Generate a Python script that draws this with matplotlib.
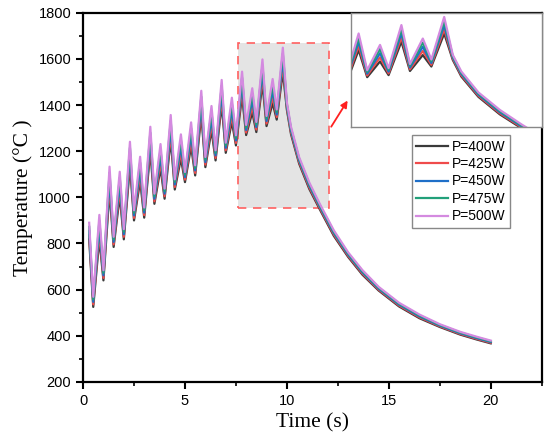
import matplotlib

matplotlib.use("Agg")

import matplotlib.pyplot as plt
from matplotlib.patches import Rectangle

# pulse phase: peaks at 0.3, 0.8, ... and troughs at 0.5, 1.0, ...
peak_times = [0.3, 0.8, 1.3, 1.8, 2.3, 2.8, 3.3, 3.8, 4.3, 4.8,
              5.3, 5.8, 6.3, 6.8, 7.3, 7.8, 8.3, 8.8, 9.3, 9.8]
trough_times = [0.5, 1.0, 1.5, 2.0, 2.5, 3.0, 3.5, 4.0, 4.5, 5.0,
                5.5, 6.0, 6.5, 7.0, 7.5, 8.0, 8.5, 9.0, 9.5]
decay_times = [10.0, 10.2, 10.6, 11.1, 11.6, 12.3, 13.0, 13.7, 14.5,
               15.5, 16.5, 17.5, 18.5, 19.3, 20.0]

labels = ["P=400W", "P=425W", "P=450W", "P=475W", "P=500W"]
colors = ["#3a3a3a", "#ef4b4b", "#1f6fc8", "#22a07a", "#d48ae0"]

peaks_400 = [818, 820, 1029, 1007, 1137, 1072, 1202, 1127, 1253, 1169,
             1221, 1358, 1292, 1405, 1328, 1441, 1369, 1494, 1409, 1545]
peaks_425 = [836, 846, 1055, 1033, 1163, 1098, 1228, 1153, 1279, 1195,
             1247, 1384, 1318, 1431, 1354, 1467, 1395, 1520, 1435, 1571]
peaks_450 = [854, 872, 1081, 1059, 1189, 1124, 1254, 1179, 1305, 1221,
             1273, 1410, 1344, 1457, 1380, 1493, 1421, 1546, 1461, 1597]
peaks_475 = [872, 898, 1107, 1085, 1215, 1150, 1280, 1205, 1331, 1247,
             1299, 1436, 1370, 1483, 1406, 1519, 1447, 1572, 1487, 1623]
peaks_500 = [890, 924, 1133, 1111, 1241, 1176, 1306, 1231, 1357, 1273,
             1325, 1462, 1396, 1509, 1432, 1545, 1473, 1598, 1513, 1649]

troughs_400 = [525, 640, 785, 818, 900, 912, 972, 994, 1034, 1066,
               1095, 1131, 1160, 1193, 1225, 1270, 1283, 1309, 1337]
troughs_425 = [536, 651, 796, 829, 911, 923, 983, 1005, 1045, 1077,
               1106, 1142, 1171, 1204, 1236, 1281, 1294, 1320, 1348]
troughs_450 = [547, 662, 807, 840, 922, 934, 994, 1016, 1056, 1088,
               1117, 1153, 1182, 1215, 1247, 1292, 1305, 1331, 1359]
troughs_475 = [558, 673, 818, 851, 933, 945, 1005, 1027, 1067, 1099,
               1128, 1164, 1193, 1226, 1258, 1303, 1316, 1342, 1370]
troughs_500 = [569, 684, 829, 862, 944, 956, 1016, 1038, 1078, 1110,
               1139, 1175, 1204, 1237, 1269, 1314, 1327, 1353, 1381]

decay_400 = [1379, 1274, 1146, 1036, 950, 833, 742, 665, 596, 527, 476, 438, 405, 384, 367]
decay_425 = [1387, 1282, 1153, 1043, 956, 839, 747, 670, 600, 531, 480, 441, 408, 387, 370]
decay_450 = [1395, 1290, 1160, 1050, 962, 845, 752, 675, 604, 535, 484, 444, 411, 390, 373]
decay_475 = [1403, 1298, 1167, 1057, 968, 851, 757, 680, 608, 539, 488, 447, 414, 393, 376]
decay_500 = [1411, 1306, 1174, 1064, 974, 857, 762, 685, 612, 543, 492, 450, 417, 396, 379]

peaks = [peaks_400, peaks_425, peaks_450, peaks_475, peaks_500]
troughs = [troughs_400, troughs_425, troughs_450, troughs_475, troughs_500]
decays = [decay_400, decay_425, decay_450, decay_475, decay_500]


def build_series(pk, tr, dc):
    # interleave peaks and troughs, then append the cooling part
    t, T = [], []
    for i in range(len(peak_times)):
        t.append(peak_times[i])
        T.append(pk[i])
        if i < len(trough_times):
            t.append(trough_times[i])
            T.append(tr[i])
    return t + decay_times, T + dc


series = [build_series(p, tr, d) for p, tr, d in zip(peaks, troughs, decays)]

plt.rcParams["font.family"] = ["Liberation Sans", "DejaVu Sans"]

fig = plt.figure(figsize=(5.5, 4.42), dpi=100)
ax = fig.add_axes([0.151, 0.136, 0.834, 0.835])

# zoom window
ax.add_patch(Rectangle((7.6, 955), 4.45, 715, facecolor="#e4e4e4",
                       edgecolor="#ff6060", linestyle=(0, (5, 4)),
                       linewidth=1.2, zorder=0))

for (t, T), c, lab in zip(series, colors, labels):
    ax.plot(t, T, color=c, linewidth=1.6, label=lab, zorder=2)

ax.set_xlim(0, 22.5)
ax.set_ylim(200, 1800)
ax.set_xticks([0, 5, 10, 15, 20])
ax.set_xticks([2.5, 7.5, 12.5, 17.5, 22.5], minor=True)
ax.set_yticks(range(200, 1801, 200))
ax.set_yticks(range(300, 1800, 200), minor=True)
ax.tick_params(which="major", length=5, width=1.5, labelsize=10.5)
ax.tick_params(which="minor", length=3, width=1.2)
for s in ax.spines.values():
    s.set_linewidth(1.6)

ax.set_xlabel("Time (s)", family=["Liberation Serif"], fontsize=15.5)
ax.set_ylabel("Temperature (°C )", family=["Liberation Serif"], fontsize=15.5)

leg = ax.legend(loc="upper left", bbox_to_anchor=(0.717, 0.668), fontsize=10,
                fancybox=False, framealpha=1, edgecolor="#888888",
                handlelength=2.3, labelspacing=0.25, borderpad=0.3,
                handletextpad=0.3, borderaxespad=0)
leg.get_frame().set_linewidth(1.0)

ax.annotate("", xy=(13.05, 1430), xytext=(12.1, 1296),
            arrowprops=dict(arrowstyle="-|>", color="#ff2020", lw=1.3,
                            mutation_scale=10))

# inset
ins = ax.inset_axes([0.584, 0.69, 0.416, 0.31])
for (t, T), c in zip(series, colors):
    ins.plot(t, T, color=c, linewidth=1.6)
ins.set_xlim(7.62, 12.08)
ins.set_ylim(955, 1675)
ins.set_xticks([])
ins.set_yticks([])
for s in ins.spines.values():
    s.set_color("#888888")
    s.set_linewidth(1.0)

fig.savefig("out.png", dpi=100)
plt.close()
